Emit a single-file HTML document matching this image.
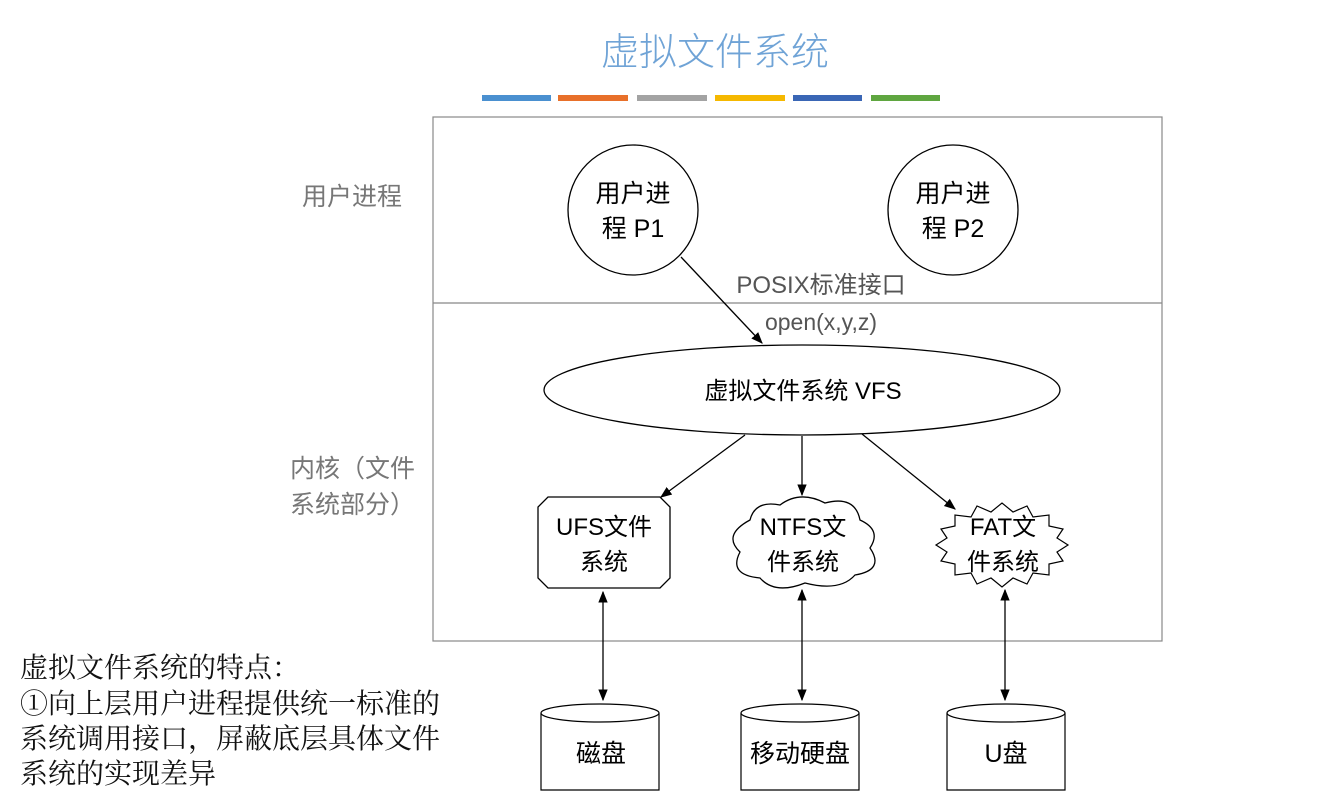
<!DOCTYPE html>
<html><head><meta charset="utf-8"><style>
body{margin:0;background:#fff;}
svg{display:block;font-family:"Liberation Sans","Noto Sans CJK SC",sans-serif;}
</style></head><body>
<svg width="1318" height="797" viewBox="0 0 1318 797" xmlns="http://www.w3.org/2000/svg">
<defs>
<marker id="a" viewBox="0 0 10 10" refX="9" refY="5" markerWidth="9" markerHeight="9" orient="auto-start-reverse"><path d="M0,1 L10,5 L0,9 z" fill="#000"/></marker>
</defs>
<text x="715" y="65" font-size="38" fill="#6fa3d6" text-anchor="middle" font-family="Noto Sans CJK SC, sans-serif" font-weight="300">虚拟文件系统</text>
<rect x="482" y="95" width="69" height="6" fill="#4a90d0"/>
<rect x="558" y="95" width="70" height="6" fill="#e8702a"/>
<rect x="637" y="95" width="70" height="6" fill="#a3a3a3"/>
<rect x="715" y="95" width="70" height="6" fill="#f5b800"/>
<rect x="793" y="95" width="69" height="6" fill="#3a66b5"/>
<rect x="871" y="95" width="69" height="6" fill="#5fa640"/>

<rect x="433" y="117" width="729" height="524" fill="none" stroke="#888" stroke-width="1.2"/>
<line x1="433" y1="303" x2="1162" y2="303" stroke="#888" stroke-width="1.2"/>

<text x="302" y="205" font-size="25" fill="#777">用户进程</text>
<text x="290" y="477" font-size="25" fill="#777">内核（文件</text>
<text x="290" y="513" font-size="25" fill="#777">系统部分）</text>

<circle cx="633" cy="210" r="65" fill="#fff" stroke="#000" stroke-width="1.3"/>
<text x="633" y="202" font-size="25" text-anchor="middle">用户进</text>
<text x="633" y="237" font-size="25" text-anchor="middle">程 P1</text>
<circle cx="953" cy="210" r="65" fill="#fff" stroke="#000" stroke-width="1.3"/>
<text x="953" y="202" font-size="25" text-anchor="middle">用户进</text>
<text x="953" y="237" font-size="25" text-anchor="middle">程 P2</text>

<text x="821" y="293" font-size="24" fill="#555" text-anchor="middle">POSIX标准接口</text>
<text x="821" y="330" font-size="23" fill="#555" text-anchor="middle">open(x,y,z)</text>
<line x1="681" y1="257" x2="762" y2="343" stroke="#000" stroke-width="1.3" marker-end="url(#a)"/>

<ellipse cx="802" cy="390" rx="258" ry="45" fill="#fff" stroke="#000" stroke-width="1.3"/>
<text x="803" y="399" font-size="24" text-anchor="middle">虚拟文件系统 VFS</text>

<line x1="745" y1="435" x2="661" y2="497" stroke="#000" stroke-width="1.3" marker-end="url(#a)"/>
<line x1="802" y1="436" x2="802" y2="495" stroke="#000" stroke-width="1.3" marker-end="url(#a)"/>
<line x1="862" y1="434" x2="955" y2="509" stroke="#000" stroke-width="1.3" marker-end="url(#a)"/>

<polygon points="548,497 660,497 670,507 670,578 660,588 548,588 538,578 538,507" fill="#fff" stroke="#000" stroke-width="1.3"/>
<text x="604" y="535" font-size="24" text-anchor="middle">UFS文件</text>
<text x="604" y="570" font-size="24" text-anchor="middle">系统</text>

<path d="M750,520 Q755,500 780,505 Q800,490 825,503 Q855,495 860,520 Q882,530 870,548 Q885,570 855,575 Q840,592 805,583 Q775,595 760,578 Q728,575 740,552 Q722,535 750,520 Z" fill="#fff" stroke="#000" stroke-width="1.3"/>
<text x="803" y="535" font-size="24" text-anchor="middle">NTFS文</text>
<text x="803" y="570" font-size="24" text-anchor="middle">件系统</text>

<polygon points="1068,545 1057,552 1063,561 1049,564 1049,575 1033,573 1027,584 1013,578 1002,587 991,578 977,584 971,573 955,575 955,564 941,561 947,552 936,545 947,538 941,529 955,526 955,515 971,517 977,506 991,512 1002,503 1013,512 1027,506 1033,517 1049,515 1049,526 1063,529 1057,538" fill="#fff" stroke="#000" stroke-width="1.2"/>
<text x="1003" y="535" font-size="24" text-anchor="middle">FAT文</text>
<text x="1003" y="570" font-size="24" text-anchor="middle">件系统</text>

<line x1="603" y1="592" x2="603" y2="700" stroke="#000" stroke-width="1.3" marker-start="url(#a)" marker-end="url(#a)"/>
<line x1="802" y1="590" x2="802" y2="700" stroke="#000" stroke-width="1.3" marker-start="url(#a)" marker-end="url(#a)"/>
<line x1="1005" y1="590" x2="1005" y2="700" stroke="#000" stroke-width="1.3" marker-start="url(#a)" marker-end="url(#a)"/>

<g fill="#fff" stroke="#000" stroke-width="1.2">
<path d="M541,713 L541,790 L659,790 L659,713"/>
<ellipse cx="600" cy="713" rx="59" ry="9"/>
<path d="M741,713 L741,790 L859,790 L859,713"/>
<ellipse cx="800" cy="713" rx="59" ry="9"/>
<path d="M947,713 L947,790 L1065,790 L1065,713"/>
<ellipse cx="1006" cy="713" rx="59" ry="9"/>
</g>
<text x="601" y="762" font-size="25" text-anchor="middle">磁盘</text>
<text x="800" y="762" font-size="25" text-anchor="middle">移动硬盘</text>
<text x="1006" y="762" font-size="25" text-anchor="middle">U盘</text>

<g font-size="28" fill="#111" font-family="Noto Serif CJK SC, serif">
<text x="20" y="677">虚拟文件系统的特点：</text>
<text x="20" y="713">①向上层用户进程提供统一标准的</text>
<text x="20" y="748">系统调用接口，屏蔽底层具体文件</text>
<text x="20" y="783">系统的实现差异</text>
</g>
</svg>
</body></html>
